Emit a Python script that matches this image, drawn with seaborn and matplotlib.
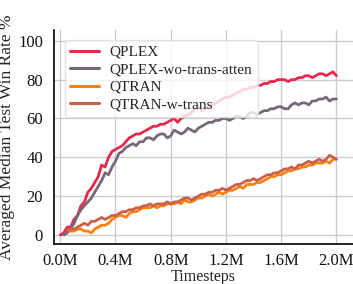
import numpy as np
import pandas as pd
import matplotlib
matplotlib.use("Agg")
import matplotlib.pyplot as plt
import seaborn as sns
from matplotlib.ticker import FuncFormatter

nan = np.nan
steps_m = [round(0.025 * i, 3) for i in range(81)]

qplex = [0, 1, 4, 4, 8, 10, 15, 17, 22, 24,
         27, 30, 36, 35, 40, 43, 44, 45, 46, 48,
         50, 51, 52, 52, 53, 54, 55, 56, 56, 57,
         57, 58, 59, 60, 58, 60, 61, 62, 63, 65,
         66, 64, 65, 66, 67, 68, 69, 70, 71, 71,
         72, 73, 74, 75, 75, 76, 76, 77, 77, 78,
         78, 79, 79, 80, 80, 80, 79, 80, 80, 81,
         81, 82, 82, 81, 82, 83, 83, 82, 83, 84,
         82]
qplex_wo = [nan, 0, 1, 3, 6, 10, 13, 15, 17, 19,
            22, 25, 28, 32, 31, 35, 38, 42, 43, 45,
            46, 47, 46, 48, 48, 50, 50, 49, 51, 52,
            52, 50, 51, 54, 53, 52, 53, 55, 54, 53,
            55, 56, 57, 58, 58, 59, 59, 60, 60, 59,
            60, 61, 61, 60, 61, 63, 63, 62, 63, 64,
            64, 65, 65, 66, 66, 65, 65, 67, 68, 67,
            68, 68, 67, 69, 69, 70, 70, 71, 69, 70,
            70]
qtran = [nan, nan, 2, 2, 2, 3, 3, 2, 2, 1,
         3, 4, 5, 5, 6, 8, 9, 10, 10, 9,
         11, 12, 12, 13, 14, 14, 14, 15, 14, 15,
         15, 16, 16, 16, 17, 16, 18, 17, 17, 18,
         19, 19, 20, 21, 20, 21, 22, 21, 22, 23,
         23, 24, 25, 24, 26, 26, 26, 27, 27, 28,
         29, 30, 30, 31, 31, 32, 33, 33, 34, 34,
         35, 35, 36, 36, 37, 37, 37, 38, 37, 39,
         39]
qtran_w = [nan, nan, 2, 3, 3, 4, 5, 6, 5, 7,
           7, 8, 9, 8, 9, 10, 10, 11, 12, 12,
           13, 13, 14, 14, 15, 15, 16, 15, 16, 16,
           16, 17, 16, 17, 17, 18, 19, 19, 18, 19,
           20, 21, 21, 22, 22, 23, 23, 24, 23, 24,
           25, 26, 26, 27, 28, 28, 29, 28, 29, 30,
           31, 31, 32, 32, 33, 34, 34, 35, 34, 36,
           36, 37, 38, 37, 38, 39, 38, 39, 41, 40,
           39]

labels = ["QPLEX", "QPLEX-wo-trans-atten", "QTRAN", "QTRAN-w-trans"]
colors = ["#e8294e", "#76677a", "#ff800e", "#c9604a"]
series = [qplex, qplex_wo, qtran, qtran_w]

frames = []
for lab, vals in zip(labels, series):
    frames.append(pd.DataFrame({"t": np.array(steps_m) * 1e6, "win": vals, "method": lab}))
df = pd.concat(frames).dropna()

sns.set_theme(style="whitegrid")
plt.rcParams["font.family"] = ["Liberation Serif", "DejaVu Serif"]

fig = plt.figure(figsize=(3.53, 2.84), dpi=100)
ax = fig.add_axes([0.153, 0.142, 0.847, 0.752])
sns.lineplot(data=df, x="t", y="win", hue="method", hue_order=labels,
             palette=dict(zip(labels, colors)), linewidth=2.0, ax=ax)

ax.set_xlim(-0.045e6, 2.12e6)
ax.set_ylim(-4.5, 105.5)
ax.set_xticks([0, 0.4e6, 0.8e6, 1.2e6, 1.6e6, 2.0e6])
ax.set_yticks([0, 20, 40, 60, 80, 100])
ax.xaxis.set_major_formatter(FuncFormatter(lambda v, p: f"{v/1e6:.1f}M"))
ax.tick_params(axis="both", labelsize=12, pad=2, colors="#111111")
ax.tick_params(axis="x", pad=1)
ax.set_xlabel("Timesteps", fontsize=11.5, labelpad=-0.3)
ax.set_ylabel("Averaged Median Test Win Rate %", fontsize=12.5, labelpad=2)
for s in ["left", "bottom"]:
    ax.spines[s].set_color("black")
    ax.spines[s].set_linewidth(1.2)
for s in ["top", "right"]:
    ax.spines[s].set_visible(False)

leg = ax.legend(loc="upper left", bbox_to_anchor=(0.01, 0.99), fontsize=11,
                frameon=True, handlelength=1.9, handletextpad=0.7,
                labelspacing=0.25, borderpad=0.35)
leg.get_frame().set_edgecolor("#dddddd")
for line in leg.get_lines():
    line.set_linewidth(2.2)

fig.savefig("out.png", dpi=100)
